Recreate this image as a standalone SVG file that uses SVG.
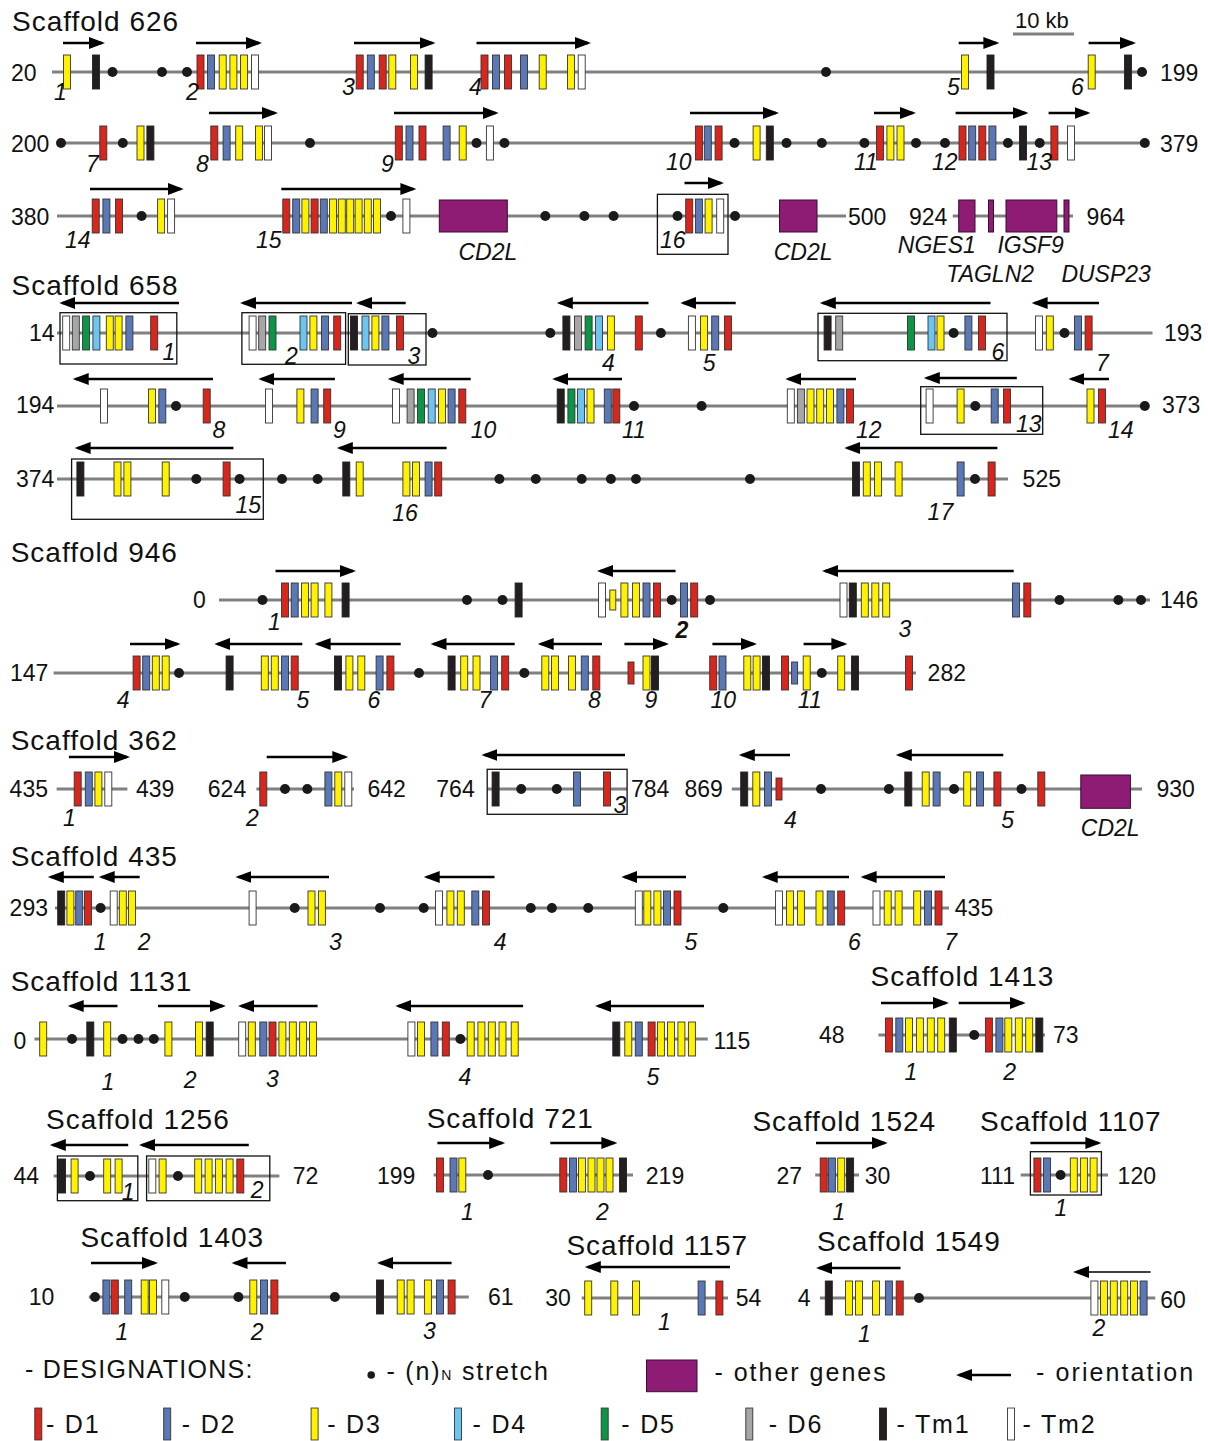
<svg xmlns="http://www.w3.org/2000/svg" width="1208" height="1441" viewBox="0 0 1208 1441">
<style>
text{font-family:"Liberation Sans",Arial,sans-serif;fill:#111}
.t{font-size:28px;letter-spacing:1px}
.n{font-size:23px}
.i{font-size:23px;font-style:italic}
.lg{font-size:25px;letter-spacing:1.8px}
.ln{stroke:#808080;stroke-width:3;fill:none}
.ar{stroke:#000;stroke-width:2.6;fill:none;marker-end:url(#ah)}
.art{stroke:#000;stroke-width:1.3;fill:none;marker-end:url(#ah)}
.bx{fill:none;stroke:#111;stroke-width:1.3}
.pg{fill:#8e1b74;stroke:#3b0d30;stroke-width:1}
</style>
<defs>
<marker id="ah" markerUnits="userSpaceOnUse" markerWidth="17" markerHeight="13" refX="13" refY="6.5" orient="auto"><path d="M0 0.5L16 6.5L0 12.5z" fill="#000"/></marker>
<rect id="r" x="-3.5" y="-17" width="7" height="34" fill="#d9261c" stroke="#333" stroke-width="0.9"/>
<rect id="b" x="-3.5" y="-17" width="7" height="34" fill="#5a78b6" stroke="#333" stroke-width="0.9"/>
<rect id="y" x="-3.5" y="-17" width="7" height="34" fill="#fff200" stroke="#333" stroke-width="0.9"/>
<rect id="c" x="-3.5" y="-17" width="7" height="34" fill="#6cc5f0" stroke="#333" stroke-width="0.9"/>
<rect id="g" x="-3.5" y="-17" width="7" height="34" fill="#0c9447" stroke="#333" stroke-width="0.9"/>
<rect id="a" x="-3.5" y="-17" width="7" height="34" fill="#a7a5a6" stroke="#333" stroke-width="0.9"/>
<rect id="k" x="-3.5" y="-17" width="7" height="34" fill="#231f20" stroke="#231f20" stroke-width="0.9"/>
<rect id="w" x="-3.5" y="-17" width="7" height="34" fill="#ffffff" stroke="#333" stroke-width="0.9"/>
<rect id="rs" x="-3" y="-11" width="6" height="22" fill="#d9261c" stroke="#333" stroke-width="0.9"/>
<rect id="bs" x="-3" y="-11" width="6" height="22" fill="#5a78b6" stroke="#333" stroke-width="0.9"/>
<rect id="ys" x="-3" y="-10" width="6" height="20" fill="#fff200" stroke="#333" stroke-width="0.9"/>
<circle id="o" r="5" fill="#1a1a1a"/>
</defs>
<rect width="1208" height="1441" fill="#fff"/>

<!-- Scaffold 626 -->
<g id="scaffold-626">
<text class="t" x="12" y="31">Scaffold 626</text>
<text class="n" x="1015" y="28" style="font-size:22px">10 kb</text>
<line class="ln" x1="1013" y1="34" x2="1074" y2="34"/>
<g id="s626-row1">
<line class="ln" x1="52" y1="72" x2="1146" y2="72"/>
<text class="n" x="11" y="81">20</text>
<text class="n" x="1160" y="81">199</text>
<g transform="translate(0,72)">
<use href="#y" x="67"/><use href="#k" x="96"/><use href="#o" x="112.5"/><use href="#o" x="162"/><use href="#o" x="187"/>
<use href="#r" x="200.5"/><use href="#b" x="211"/><use href="#y" x="222.7"/><use href="#y" x="233.4"/><use href="#y" x="244"/><use href="#w" x="255"/>
<use href="#r" x="359.7"/><use href="#b" x="370.8"/><use href="#r" x="382.7"/><use href="#y" x="392.3"/><use href="#y" x="414"/><use href="#k" x="428.6"/>
<use href="#r" x="484.5"/><use href="#b" x="496"/><use href="#r" x="508"/><use href="#b" x="524"/><use href="#y" x="542.7"/><use href="#y" x="571"/><use href="#w" x="581.7"/>
<use href="#o" x="826"/><use href="#y" x="965"/><use href="#k" x="990.5"/><use href="#y" x="1091.7"/><use href="#k" x="1128"/><use href="#o" x="1142"/>
</g>
<path class="ar" d="M63 43H102"/><path class="ar" d="M196 43H259"/><path class="ar" d="M354 43H432.5"/><path class="ar" d="M476.5 43H588"/><path class="ar" d="M958.7 43H996.4"/><path class="ar" d="M1088.6 43H1133"/>
<text class="i" x="54" y="100">1</text><text class="i" x="186" y="100">2</text><text class="i" x="342" y="95">3</text><text class="i" x="469" y="95">4</text><text class="i" x="947" y="95">5</text><text class="i" x="1071" y="95">6</text>
</g>
<g id="s626-row2">
<line class="ln" x1="61" y1="143" x2="1145" y2="143"/>
<text class="n" x="11" y="152">200</text>
<text class="n" x="1160" y="152">379</text>
<g transform="translate(0,143)">
<use href="#o" x="61"/><use href="#r" x="103.3"/><use href="#o" x="122.8"/><use href="#y" x="140.5"/><use href="#k" x="150.4"/>
<use href="#r" x="214.3"/><use href="#b" x="226.6"/><use href="#y" x="239.2"/><use href="#y" x="259"/><use href="#w" x="268"/><use href="#o" x="310"/>
<use href="#r" x="398.8"/><use href="#b" x="409.5"/><use href="#r" x="422.5"/><use href="#b" x="446.6"/><use href="#y" x="462.7"/><use href="#o" x="476.5"/><use href="#w" x="489.9"/><use href="#o" x="504.4"/>
<use href="#r" x="698.9"/><use href="#b" x="707.8"/><use href="#r" x="718.6"/><use href="#o" x="734.5"/><use href="#y" x="756.6"/><use href="#k" x="769.8"/><use href="#o" x="786.5"/><use href="#o" x="821.8"/><use href="#o" x="864.4"/>
<use href="#r" x="880"/><use href="#y" x="890.4"/><use href="#y" x="900.5"/><use href="#o" x="916"/><use href="#o" x="945"/>
<use href="#r" x="962.5"/><use href="#b" x="972.2"/><use href="#r" x="982.3"/><use href="#b" x="992.4"/><use href="#o" x="1007.9"/><use href="#k" x="1023"/><use href="#o" x="1039.7"/>
<use href="#r" x="1054.4"/><use href="#w" x="1071"/><use href="#o" x="1144.8"/>
</g>
<path class="ar" d="M209 113H275"/><path class="ar" d="M394 113H495.7"/><path class="ar" d="M690 113H776"/><path class="ar" d="M874 113H913"/><path class="ar" d="M955.6 113H1025.5"/><path class="ar" d="M1048.6 113H1087.5"/>
<text class="i" x="86" y="172">7</text><text class="i" x="196" y="172">8</text><text class="i" x="381" y="172">9</text><text class="i" x="666" y="170">10</text><text class="i" x="854" y="170">11</text><text class="i" x="932" y="170">12</text><text class="i" x="1026.5" y="170">13</text>
</g>
<g id="s626-row3">
<line class="ln" x1="57" y1="216" x2="846" y2="216"/>
<text class="n" x="11" y="225">380</text>
<text class="n" x="848" y="225">500</text>
<rect class="pg" x="439.3" y="200" width="68" height="32"/>
<rect class="pg" x="779.5" y="200" width="37.5" height="32"/>
<rect class="bx" x="657.4" y="194.3" width="70.6" height="60"/>
<g transform="translate(0,216)">
<use href="#r" x="95.7"/><use href="#b" x="106.4"/><use href="#r" x="119"/><use href="#o" x="141.6"/><use href="#y" x="161.1"/><use href="#w" x="171.1"/>
<use href="#r" x="286.3"/><use href="#b" x="296.2"/><use href="#y" x="305.4"/><use href="#r" x="314.6"/><use href="#b" x="323.8"/><use href="#y" x="333"/><use href="#y" x="341.8"/><use href="#y" x="350.2"/><use href="#y" x="358.6"/><use href="#y" x="367.8"/><use href="#y" x="377"/>
<use href="#o" x="391"/><use href="#w" x="406.4"/><use href="#o" x="545.3"/><use href="#o" x="584.4"/><use href="#o" x="613.6"/>
<use href="#o" x="677.5"/><use href="#r" x="689.2"/><use href="#b" x="698.9"/><use href="#y" x="708.6"/><use href="#w" x="720.2"/><use href="#o" x="735"/>
</g>
<path class="ar" d="M90 189H180.7"/><path class="ar" d="M281.3 189H413.4"/><path class="ar" d="M684.5 183H721"/>
<text class="i" x="65" y="248">14</text><text class="i" x="256" y="248">15</text><text class="i" x="660" y="248">16</text>
<text class="i" x="458.5" y="260">CD2L</text><text class="i" x="773.7" y="260">CD2L</text>
</g>
<g id="s626-other-genes">
<line class="ln" x1="952.8" y1="216" x2="1073" y2="216"/>
<text class="n" x="909" y="225">924</text>
<text class="n" x="1086.6" y="225">964</text>
<rect class="pg" x="958.7" y="200" width="16.3" height="32"/>
<rect class="pg" x="988.5" y="200" width="5" height="32"/>
<rect class="pg" x="1006" y="200" width="50.8" height="32"/>
<rect class="pg" x="1064" y="200" width="5" height="32"/>
<text class="i" x="897.8" y="253">NGES1</text>
<text class="i" x="997.4" y="253">IGSF9</text>
<text class="i" x="946.3" y="282">TAGLN2</text>
<text class="i" x="1061.4" y="282">DUSP23</text>
</g>
</g>

<!-- Scaffold 658 -->
<g id="scaffold-658">
<text class="t" x="11.5" y="295">Scaffold 658</text>
<g id="s658-row1">
<line class="ln" x1="57" y1="333" x2="1152.5" y2="333"/>
<text class="n" x="29" y="341">14</text>
<text class="n" x="1164" y="341">193</text>
<rect class="bx" x="60" y="312.7" width="116.8" height="51.3"/>
<rect class="bx" x="241.9" y="312.7" width="103.7" height="51.6"/>
<rect class="bx" x="348.3" y="313.7" width="77.7" height="51.3"/>
<rect class="bx" x="818" y="313.3" width="189" height="47.4"/>
<g transform="translate(0,333)">
<use href="#w" x="66.2"/><use href="#a" x="75.8"/><use href="#g" x="86.1"/><use href="#c" x="96.4"/><use href="#y" x="109.8"/><use href="#y" x="118.6"/><use href="#b" x="129.4"/><use href="#r" x="154.2"/>
<use href="#w" x="252.6"/><use href="#a" x="262.2"/><use href="#g" x="272.5"/><use href="#c" x="303.5"/><use href="#y" x="313.4"/><use href="#b" x="325"/><use href="#r" x="337.2"/>
<use href="#k" x="354"/><use href="#c" x="365.5"/><use href="#y" x="375.4"/><use href="#b" x="385.4"/><use href="#r" x="400"/><use href="#o" x="432.5"/><use href="#o" x="550.3"/>
<use href="#k" x="566.4"/><use href="#a" x="578"/><use href="#g" x="588.6"/><use href="#c" x="599"/><use href="#y" x="610.9"/><use href="#r" x="638.8"/><use href="#o" x="660.9"/>
<use href="#w" x="691.9"/><use href="#y" x="704"/><use href="#b" x="715.2"/><use href="#r" x="728"/>
<use href="#k" x="827.6"/><use href="#a" x="839.2"/><use href="#g" x="911"/><use href="#c" x="931.5"/><use href="#y" x="940.5"/><use href="#o" x="953.6"/><use href="#b" x="968.4"/><use href="#r" x="982"/>
<use href="#w" x="1039"/><use href="#y" x="1049.8"/><use href="#o" x="1064.5"/><use href="#b" x="1078"/><use href="#r" x="1088.6"/>
</g>
<path class="ar" d="M179 303H62.3"/><path class="ar" d="M352 303H243"/><path class="ar" d="M405.7 303H359"/><path class="ar" d="M648.5 303H559.8"/><path class="ar" d="M735.7 303H683.3"/><path class="ar" d="M990.5 303H822.8"/><path class="ar" d="M1099 303H1034.6"/>
<text class="i" x="162.6" y="360">1</text><text class="i" x="285" y="364">2</text><text class="i" x="407.6" y="364">3</text><text class="i" x="602" y="371">4</text><text class="i" x="702.8" y="371">5</text><text class="i" x="991.6" y="360">6</text><text class="i" x="1096" y="371">7</text>
</g>
<g id="s658-row2">
<line class="ln" x1="57" y1="406" x2="1145" y2="406"/>
<text class="n" x="16" y="413">194</text>
<text class="n" x="1162" y="413">373</text>
<rect class="bx" x="920.7" y="386.7" width="122" height="47.6"/>
<g transform="translate(0,406)">
<use href="#w" x="104"/><use href="#y" x="152"/><use href="#b" x="162.3"/><use href="#o" x="176"/><use href="#r" x="206.7"/>
<use href="#w" x="269"/><use href="#y" x="300.4"/><use href="#b" x="314.6"/><use href="#r" x="327.2"/>
<use href="#w" x="396"/><use href="#a" x="410.6"/><use href="#g" x="421"/><use href="#c" x="431.7"/><use href="#y" x="442"/><use href="#b" x="451.6"/><use href="#r" x="462.3"/>
<use href="#k" x="560.7"/><use href="#g" x="571.4"/><use href="#c" x="581"/><use href="#y" x="590.5"/><use href="#b" x="607.8"/><use href="#r" x="616.3"/><use href="#o" x="634"/><use href="#o" x="701.6"/>
<use href="#w" x="790.8"/><use href="#a" x="800.9"/><use href="#y" x="810.5"/><use href="#y" x="820.2"/><use href="#y" x="830"/><use href="#b" x="840.4"/><use href="#r" x="850"/>
<use href="#w" x="929.6"/><use href="#y" x="960.6"/><use href="#o" x="975.3"/><use href="#b" x="994.7"/><use href="#r" x="1007"/>
<use href="#y" x="1090.5"/><use href="#r" x="1102"/><use href="#o" x="1144.8"/>
</g>
<path class="ar" d="M213 379H75.7"/><path class="ar" d="M334.9 379H261.3"/><path class="ar" d="M470.7 379H390.7"/><path class="ar" d="M622 379H555.2"/><path class="ar" d="M856 379H788.3"/><path class="ar" d="M1016.8 378H926.8"/><path class="ar" d="M1109 379H1071.4"/>
<text class="i" x="212.4" y="438">8</text><text class="i" x="333" y="438">9</text><text class="i" x="470.7" y="438">10</text><text class="i" x="622" y="438">11</text><text class="i" x="856" y="438">12</text><text class="i" x="1016" y="432">13</text><text class="i" x="1108" y="438">14</text>
</g>
<g id="s658-row3">
<line class="ln" x1="57" y1="479" x2="1008" y2="479"/>
<text class="n" x="16" y="487">374</text>
<text class="n" x="1022.6" y="487">525</text>
<rect class="bx" x="71.6" y="459" width="191.7" height="60.3"/>
<g transform="translate(0,479)">
<use href="#k" x="80.4"/><use href="#y" x="117.5"/><use href="#y" x="127.4"/><use href="#y" x="165.7"/><use href="#o" x="196.3"/><use href="#r" x="226.6"/><use href="#o" x="239.6"/><use href="#o" x="282"/><use href="#o" x="317.6"/>
<use href="#k" x="346.3"/><use href="#y" x="359.7"/><use href="#y" x="406.4"/><use href="#y" x="416"/><use href="#b" x="428.6"/><use href="#r" x="438.2"/>
<use href="#o" x="499.4"/><use href="#o" x="535.8"/><use href="#o" x="581.7"/><use href="#o" x="610.9"/><use href="#o" x="636"/><use href="#o" x="750"/>
<use href="#k" x="856"/><use href="#y" x="866.8"/><use href="#y" x="878"/><use href="#y" x="898.6"/><use href="#b" x="960.6"/><use href="#o" x="975"/><use href="#r" x="991.6"/>
</g>
<path class="ar" d="M233.4 448H77.6"/><path class="ar" d="M446.6 448H339.8"/><path class="ar" d="M997.4 448H847.3"/>
<text class="i" x="235.4" y="513">15</text><text class="i" x="392.3" y="521">16</text><text class="i" x="927.6" y="520">17</text>
</g>
</g>

<!-- Scaffold 946 -->
<g id="scaffold-946">
<text class="t" x="10.7" y="562">Scaffold 946</text>
<g id="s946-row1">
<line class="ln" x1="219" y1="600" x2="1150" y2="600"/>
<text class="n" x="193" y="608">0</text>
<text class="n" x="1160" y="608">146</text>
<g transform="translate(0,600)">
<use href="#o" x="262.5"/><use href="#r" x="285"/><use href="#b" x="294.7"/><use href="#y" x="305"/><use href="#y" x="314.6"/><use href="#y" x="328.4"/><use href="#k" x="345.6"/>
<use href="#o" x="467"/><use href="#o" x="502.5"/><use href="#k" x="518.6"/>
<use href="#w" x="602"/><use href="#ys" x="612.8"/><use href="#y" x="624.4"/><use href="#y" x="636"/><use href="#b" x="646.5"/><use href="#r" x="657"/><use href="#o" x="671.7"/><use href="#b" x="684"/><use href="#r" x="694.2"/><use href="#o" x="710"/>
<use href="#w" x="843.5"/><use href="#k" x="852.8"/><use href="#y" x="864.8"/><use href="#y" x="875.3"/><use href="#y" x="886.2"/>
<use href="#b" x="1016"/><use href="#r" x="1027.3"/><use href="#o" x="1059.5"/><use href="#o" x="1118.4"/><use href="#o" x="1141"/>
</g>
<path class="ar" d="M275.5 571H353"/><path class="ar" d="M675.6 571H600"/><path class="ar" d="M1013.7 571H825"/>
<text class="i" x="268" y="630">1</text><text class="i" x="675.6" y="638" font-weight="bold">2</text><text class="i" x="898.6" y="637">3</text>
</g>
<g id="s946-row2">
<line class="ln" x1="53.6" y1="673" x2="916" y2="673"/>
<text class="n" x="10" y="681">147</text>
<text class="n" x="927.6" y="681">282</text>
<g transform="translate(0,673)">
<use href="#r" x="136.6"/><use href="#b" x="146.2"/><use href="#y" x="155.8"/><use href="#y" x="165.7"/><use href="#o" x="179"/>
<use href="#k" x="229.6"/><use href="#y" x="264.8"/><use href="#y" x="274.8"/><use href="#b" x="285"/><use href="#r" x="294.7"/>
<use href="#k" x="338"/><use href="#y" x="349.4"/><use href="#y" x="361.3"/><use href="#b" x="379.6"/><use href="#r" x="390.4"/><use href="#o" x="419"/>
<use href="#k" x="451.6"/><use href="#y" x="464.2"/><use href="#y" x="476.5"/><use href="#b" x="494"/><use href="#r" x="505.2"/><use href="#o" x="524.3"/>
<use href="#y" x="545.3"/><use href="#y" x="555"/><use href="#y" x="572"/><use href="#b" x="584.8"/><use href="#r" x="596.3"/>
<use href="#rs" x="631"/><use href="#y" x="646.5"/><use href="#k" x="655"/>
<use href="#r" x="713.2"/><use href="#b" x="722.5"/><use href="#y" x="747.3"/><use href="#y" x="756.6"/><use href="#k" x="766"/>
<use href="#r" x="785"/><use href="#bs" x="794.6"/><use href="#y" x="806.7"/><use href="#o" x="821.8"/><use href="#y" x="841.2"/><use href="#k" x="855"/><use href="#r" x="909"/>
</g>
<path class="ar" d="M130 644H177.6"/><path class="ar" d="M302.3 644H217.3"/><path class="ar" d="M400.7 644H317.6"/><path class="ar" d="M514.7 644H433.5"/><path class="ar" d="M602 644H540.7"/><path class="ar" d="M624.4 644H666"/><path class="ar" d="M712.4 644H754"/><path class="ar" d="M803.6 644H844.4"/>
<text class="i" x="116.7" y="708">4</text><text class="i" x="296.6" y="708">5</text><text class="i" x="367.4" y="708">6</text><text class="i" x="478.4" y="708">7</text><text class="i" x="588" y="708">8</text><text class="i" x="644.6" y="708">9</text><text class="i" x="710.5" y="708">10</text><text class="i" x="797.8" y="708">11</text>
</g>
</g>

<!-- Scaffold 362 -->
<g id="scaffold-362">
<text class="t" x="10.7" y="750">Scaffold 362</text>
<g id="s362-seg1">
<line class="ln" x1="56.6" y1="789" x2="127.4" y2="789"/>
<text class="n" x="9.6" y="797">435</text><text class="n" x="136" y="797">439</text>
<g transform="translate(0,789)"><use href="#r" x="77.7"/><use href="#b" x="88.8"/><use href="#y" x="98.4"/><use href="#w" x="108.3"/></g>
<path class="ar" d="M68.9 757H127"/>
<text class="i" x="63" y="826">1</text>
</g>
<g id="s362-seg2">
<line class="ln" x1="256.4" y1="789" x2="354" y2="789"/>
<text class="n" x="207.8" y="797">624</text><text class="n" x="367.4" y="797">642</text>
<g transform="translate(0,789)"><use href="#r" x="263.3"/><use href="#o" x="285"/><use href="#o" x="307.3"/><use href="#b" x="328.4"/><use href="#y" x="338.3"/><use href="#w" x="348.3"/></g>
<path class="ar" d="M266.7 757H345.3"/>
<text class="i" x="246" y="826">2</text>
</g>
<g id="s362-seg3">
<line class="ln" x1="487.2" y1="789" x2="627" y2="789"/>
<text class="n" x="436.3" y="797">764</text><text class="n" x="631" y="797">784</text>
<rect class="bx" x="487.2" y="769.3" width="139.9" height="45"/>
<g transform="translate(0,789)"><use href="#k" x="495.6"/><use href="#o" x="521.2"/><use href="#o" x="556.8"/><use href="#b" x="577"/><use href="#r" x="607"/></g>
<path class="ar" d="M625 755H484.4"/>
<text class="i" x="613.6" y="813">3</text>
</g>
<g id="s362-seg4">
<line class="ln" x1="731.8" y1="789" x2="1142" y2="789"/>
<text class="n" x="684.5" y="797">869</text><text class="n" x="1156.4" y="797">930</text>
<rect class="pg" x="1080.8" y="775" width="49.6" height="33.3"/>
<g transform="translate(0,789)">
<use href="#k" x="744.2"/><use href="#y" x="756.3"/><use href="#b" x="768"/><use href="#rs" x="779"/><use href="#o" x="821"/><use href="#o" x="888.9"/>
<use href="#k" x="908.3"/><use href="#y" x="925.7"/><use href="#b" x="936.6"/><use href="#o" x="954"/><use href="#y" x="967.2"/><use href="#b" x="980"/><use href="#r" x="997.4"/><use href="#o" x="1021.5"/><use href="#r" x="1041.3"/>
</g>
<path class="ar" d="M790 755H741.8"/><path class="ar" d="M1003.3 755H898.8"/>
<text class="i" x="784" y="828">4</text><text class="i" x="1001.3" y="828">5</text><text class="i" x="1080.8" y="836">CD2L</text>
</g>
</g>

<!-- Scaffold 435 -->
<g id="scaffold-435">
<text class="t" x="10.7" y="866">Scaffold 435</text>
<line class="ln" x1="55" y1="908" x2="949" y2="908"/>
<text class="n" x="9.6" y="916">293</text><text class="n" x="954.8" y="916">435</text>
<g transform="translate(0,908)">
<use href="#k" x="61.2"/><use href="#y" x="70.4"/><use href="#b" x="79.2"/><use href="#r" x="88"/><use href="#o" x="100.6"/><use href="#w" x="113.7"/><use href="#y" x="122.8"/><use href="#y" x="132"/>
<use href="#w" x="252.6"/><use href="#o" x="294.7"/><use href="#y" x="311.5"/><use href="#y" x="321.9"/><use href="#o" x="380"/><use href="#o" x="423.7"/>
<use href="#w" x="439"/><use href="#y" x="450.4"/><use href="#y" x="460.8"/><use href="#b" x="475.3"/><use href="#r" x="486"/><use href="#o" x="530.8"/><use href="#o" x="551.9"/><use href="#o" x="588.2"/>
<use href="#w" x="638.8"/><use href="#y" x="647.3"/><use href="#y" x="657.4"/><use href="#b" x="667"/><use href="#r" x="677.5"/><use href="#o" x="723.3"/>
<use href="#w" x="779"/><use href="#y" x="790"/><use href="#y" x="800.9"/><use href="#y" x="819.5"/><use href="#b" x="830.7"/><use href="#r" x="841.2"/>
<use href="#w" x="876.5"/><use href="#y" x="887.7"/><use href="#y" x="898.6"/><use href="#y" x="917.2"/><use href="#b" x="928"/><use href="#r" x="938.5"/>
</g>
<path class="ar" d="M93.8 877H50.8"/><path class="ar" d="M139.7 877H101.7"/><path class="ar" d="M329 877H238.4"/><path class="ar" d="M494.5 877H426.7"/><path class="ar" d="M686 877H624.3"/><path class="ar" d="M849 877H764.7"/><path class="ar" d="M945 877H863.6"/>
<text class="i" x="93.8" y="950">1</text><text class="i" x="137.8" y="950">2</text><text class="i" x="329" y="950">3</text><text class="i" x="493.7" y="950">4</text><text class="i" x="684.5" y="950">5</text><text class="i" x="848" y="950">6</text><text class="i" x="944.3" y="950">7</text>
</g>

<!-- Scaffold 1131 -->
<g id="scaffold-1131">
<text class="t" x="10.7" y="991">Scaffold 1131</text>
<line class="ln" x1="34.4" y1="1039" x2="707.8" y2="1039"/>
<text class="n" x="13.4" y="1049">0</text><text class="n" x="713.6" y="1049">115</text>
<g transform="translate(0,1039)">
<use href="#y" x="43.2"/><use href="#o" x="72"/><use href="#k" x="90.3"/><use href="#y" x="107.2"/><use href="#o" x="122.5"/><use href="#o" x="138.5"/><use href="#o" x="153.8"/>
<use href="#y" x="168.4"/><use href="#y" x="199"/><use href="#k" x="209.7"/>
<use href="#w" x="242.2"/><use href="#y" x="251.8"/><use href="#b" x="263.3"/><use href="#r" x="272.5"/><use href="#y" x="282.4"/><use href="#y" x="292.8"/><use href="#y" x="303.1"/><use href="#y" x="313"/>
<use href="#w" x="411.4"/><use href="#y" x="421"/><use href="#b" x="434.4"/><use href="#r" x="445.8"/><use href="#o" x="460.4"/><use href="#y" x="470.7"/><use href="#y" x="481.4"/><use href="#y" x="491.8"/><use href="#y" x="502.5"/><use href="#y" x="514.7"/>
<use href="#k" x="616.3"/><use href="#y" x="628.3"/><use href="#b" x="638.8"/><use href="#r" x="651.6"/><use href="#y" x="660.9"/><use href="#y" x="671"/><use href="#y" x="681.4"/><use href="#y" x="691.9"/>
</g>
<path class="ar" d="M117.5 1006H70.7"/><path class="ar" d="M158 1006H222.8"/><path class="ar" d="M317.6 1006H241"/><path class="ar" d="M523.1 1006H398.3"/><path class="ar" d="M704 1006H598"/>
<text class="i" x="101.4" y="1090">1</text><text class="i" x="183.7" y="1088">2</text><text class="i" x="266" y="1087">3</text><text class="i" x="458.5" y="1085">4</text><text class="i" x="646.5" y="1085">5</text>
</g>

<!-- Scaffold 1413 -->
<g id="scaffold-1413">
<text class="t" x="870.6" y="986">Scaffold 1413</text>
<line class="ln" x1="878.4" y1="1035" x2="1045" y2="1035"/>
<text class="n" x="819" y="1043">48</text><text class="n" x="1053" y="1043">73</text>
<g transform="translate(0,1035)">
<use href="#r" x="888.9"/><use href="#b" x="899.3"/><use href="#y" x="909"/><use href="#y" x="919.9"/><use href="#y" x="930.8"/><use href="#y" x="941.2"/><use href="#k" x="952.8"/><use href="#o" x="974.2"/>
<use href="#r" x="988.9"/><use href="#b" x="999.4"/><use href="#y" x="1008.3"/><use href="#y" x="1018.8"/><use href="#y" x="1029.2"/><use href="#k" x="1039.3"/>
</g>
<path class="ar" d="M881 1003H946"/><path class="ar" d="M958.7 1003H1022.7"/>
<text class="i" x="904.4" y="1080">1</text><text class="i" x="1003.3" y="1080">2</text>
</g>

<!-- Scaffold 1256 -->
<g id="scaffold-1256">
<text class="t" x="46" y="1129">Scaffold 1256</text>
<line class="ln" x1="53.6" y1="1176" x2="279.4" y2="1176"/>
<text class="n" x="13.4" y="1184">44</text><text class="n" x="292.8" y="1184">72</text>
<rect class="bx" x="57.4" y="1156" width="80.4" height="44.7"/>
<rect class="bx" x="146.6" y="1156" width="123.2" height="44.7"/>
<g transform="translate(0,1176)">
<use href="#k" x="62"/><use href="#y" x="74.6"/><use href="#o" x="90"/><use href="#y" x="107.2"/><use href="#y" x="118.6"/>
<use href="#w" x="152.3"/><use href="#y" x="162.6"/><use href="#o" x="178"/><use href="#y" x="198.2"/><use href="#y" x="208.6"/><use href="#y" x="218.9"/><use href="#y" x="229.6"/><use href="#r" x="240.3"/>
</g>
<path class="ar" d="M128.2 1145H52.8"/><path class="ar" d="M248.8 1145H142"/>
<text class="i" x="121.7" y="1200">1</text><text class="i" x="250.7" y="1198">2</text>
</g>

<!-- Scaffold 721 -->
<g id="scaffold-721">
<text class="t" x="426.7" y="1128">Scaffold 721</text>
<line class="ln" x1="433.6" y1="1175" x2="633" y2="1175"/>
<text class="n" x="377" y="1184">199</text><text class="n" x="645.8" y="1184">219</text>
<g transform="translate(0,1175)">
<use href="#r" x="440"/><use href="#b" x="453.5"/><use href="#y" x="462.3"/><use href="#o" x="488"/>
<use href="#r" x="563.3"/><use href="#b" x="573"/><use href="#y" x="582"/><use href="#y" x="591.5"/><use href="#y" x="600.5"/><use href="#y" x="609.5"/><use href="#k" x="623"/>
</g>
<path class="ar" d="M437.4 1143H502.2"/><path class="ar" d="M550.3 1143H614.4"/>
<text class="i" x="461" y="1220">1</text><text class="i" x="596" y="1220">2</text>
</g>

<!-- Scaffold 1524 -->
<g id="scaffold-1524">
<text class="t" x="752.4" y="1131">Scaffold 1524</text>
<line class="ln" x1="815.2" y1="1175" x2="859" y2="1175"/>
<text class="n" x="776.4" y="1184">27</text><text class="n" x="864.8" y="1184">30</text>
<g transform="translate(0,1175)"><use href="#r" x="823.7"/><use href="#b" x="831.9"/><use href="#y" x="841.2"/><use href="#k" x="850.1"/></g>
<path class="ar" d="M816 1143H884.7"/>
<text class="i" x="832.6" y="1220">1</text>
</g>

<!-- Scaffold 1107 -->
<g id="scaffold-1107">
<text class="t" x="980" y="1131">Scaffold 1107</text>
<line class="ln" x1="1020.7" y1="1175" x2="1108" y2="1175"/>
<text class="n" x="980" y="1184">111</text><text class="n" x="1117.6" y="1184">120</text>
<rect class="bx" x="1030.4" y="1151.7" width="71" height="43.3"/>
<g transform="translate(0,1175)"><use href="#r" x="1037.4"/><use href="#b" x="1047"/><use href="#o" x="1060.6"/><use href="#y" x="1073.8"/><use href="#y" x="1083.9"/><use href="#y" x="1093.6"/></g>
<path class="ar" d="M1030.4 1143H1098.4"/>
<text class="i" x="1054.4" y="1216">1</text>
</g>

<!-- Scaffold 1403 -->
<g id="scaffold-1403">
<text class="t" x="80.4" y="1247">Scaffold 1403</text>
<line class="ln" x1="88.8" y1="1297" x2="468.8" y2="1297"/>
<text class="n" x="28.7" y="1305">10</text><text class="n" x="488" y="1305">61</text>
<g transform="translate(0,1297)">
<use href="#o" x="95"/><use href="#b" x="106.4"/><use href="#r" x="114.8"/><use href="#b" x="128.2"/><use href="#y" x="144.7"/><use href="#y" x="153"/><use href="#w" x="165.3"/><use href="#o" x="184.8"/>
<use href="#o" x="238.4"/><use href="#y" x="253.3"/><use href="#b" x="264"/><use href="#r" x="274.4"/><use href="#o" x="334.9"/>
<use href="#k" x="380"/><use href="#y" x="400.7"/><use href="#y" x="410.6"/><use href="#y" x="427.9"/><use href="#b" x="440"/><use href="#r" x="451.6"/>
</g>
<path class="ar" d="M91 1263H155"/><path class="ar" d="M285.9 1263H234.5"/><path class="ar" d="M451.6 1263H380"/>
<text class="i" x="115.6" y="1340">1</text><text class="i" x="250.7" y="1340">2</text><text class="i" x="423" y="1339">3</text>
</g>

<!-- Scaffold 1157 -->
<g id="scaffold-1157">
<text class="t" x="566.4" y="1255">Scaffold 1157</text>
<line class="ln" x1="581.7" y1="1298" x2="728" y2="1298"/>
<text class="n" x="545.3" y="1306">30</text><text class="n" x="735.7" y="1306">54</text>
<g transform="translate(0,1298)"><use href="#y" x="588.2"/><use href="#y" x="614.3"/><use href="#y" x="636"/><use href="#b" x="701.6"/><use href="#r" x="719.4"/></g>
<path class="ar" d="M729.9 1267H587.8"/>
<text class="i" x="658" y="1330">1</text>
</g>

<!-- Scaffold 1549 -->
<g id="scaffold-1549">
<text class="t" x="817" y="1251">Scaffold 1549</text>
<line class="ln" x1="819.9" y1="1298" x2="1155.3" y2="1298"/>
<text class="n" x="797.8" y="1306">4</text><text class="n" x="1160.3" y="1308">60</text>
<g transform="translate(0,1298)">
<use href="#k" x="828.8"/><use href="#y" x="849"/><use href="#y" x="859"/><use href="#y" x="876"/><use href="#b" x="888.9"/><use href="#r" x="899.7"/><use href="#o" x="919"/>
<use href="#w" x="1094.4"/><use href="#y" x="1104"/><use href="#y" x="1113.8"/><use href="#y" x="1124.2"/><use href="#y" x="1134"/><use href="#b" x="1143.6"/>
</g>
<path class="ar" d="M900.5 1268H819"/><path class="art" d="M1150.6 1272H1076"/>
<text class="i" x="857.9" y="1342">1</text><text class="i" x="1092.4" y="1336">2</text>
</g>

<!-- Legend -->
<g id="legend">
<text class="lg" x="25" y="1378" style="letter-spacing:1.3px">- DESIGNATIONS:</text>
<circle cx="371.2" cy="1375" r="3.8" fill="#1a1a1a"/>
<text class="lg" x="386.5" y="1380">- (n)<tspan font-size="14">N</tspan> stretch</text>
<rect class="pg" x="646.5" y="1360" width="50.5" height="31.7"/>
<text class="lg" x="714.4" y="1381" style="letter-spacing:2px">- other genes</text>
<path class="ar" d="M1011 1375H959"/>
<text class="lg" x="1036" y="1381" style="letter-spacing:2.1px">- orientation</text>
<g transform="translate(0,1424) scale(1,0.94)">
<use href="#r" x="38.3"/><use href="#b" x="167.2"/><use href="#y" x="314.6"/><use href="#c" x="458"/><use href="#g" x="604.7"/><use href="#a" x="749.3"/><use href="#k" x="883"/><use href="#w" x="1011"/>
</g>
<text class="lg" x="46" y="1433">- D1</text><text class="lg" x="181.8" y="1433">- D2</text><text class="lg" x="327.2" y="1433">- D3</text><text class="lg" x="472.6" y="1433">- D4</text>
<text class="lg" x="621.3" y="1433">- D5</text><text class="lg" x="768.7" y="1433">- D6</text><text class="lg" x="896.6" y="1433">- Tm1</text><text class="lg" x="1022.6" y="1433">- Tm2</text>
</g>
</svg>
